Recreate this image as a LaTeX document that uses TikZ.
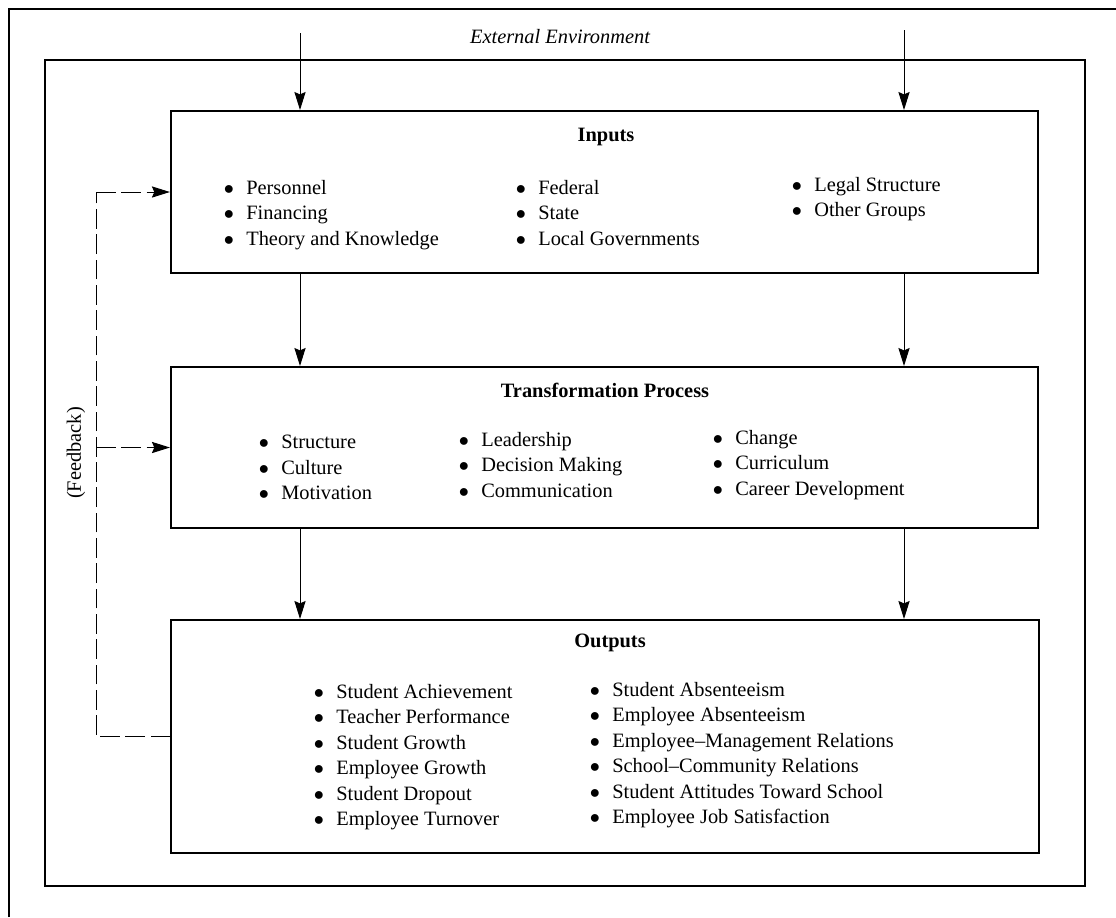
\documentclass[tikz,border=0pt]{standalone}
\usepackage{fontspec}
\setmainfont{Liberation Serif}
\usetikzlibrary{arrows.meta}
\newcommand{\bul}{\makebox[1.1em][l]{$\bullet$}}
\tikzset{
  sysbox/.style={draw, line width=1.4pt, minimum width=21.675cm, inner sep=0pt},
  ttl/.style={font=\fontsize{14.5}{18.1}\selectfont\bfseries},
  lst/.style={anchor=north west, align=left, inner sep=0pt},
  arr/.style={-{Stealth[length=4.5mm,width=2.8mm,inset=0.6mm]}, line width=0.7pt},
  fb/.style={line width=0.7pt, dash pattern=on 14pt off 4pt},
}

\begin{document}
\begin{tikzpicture}[x=0.025cm, y=-0.025cm, font=\fontsize{14.5}{18.1}\selectfont]
  \useasboundingbox (0,0) rectangle (1116,917);
  % environment and system frames
  \draw[line width=0.9pt] (9,917) -- (9,9) -- (1116,9);
  \draw[line width=1pt] (45,60) rectangle (1085,886);
  \node (env) at (560,37) {\itshape External Environment};

  % the three boxes
  \node[sysbox, minimum height=4.05cm] (inp) at (604.5,192) {};
  \node[sysbox, minimum height=4.025cm] (trans) at (604.5,447.5) {};
  \node[sysbox, minimum height=5.825cm] (outp) at (605,736.5) {};

  \node[ttl] (inpT) at (606,137) {Inputs};
  \node[lst] (inpA) at (223.6,180) {\bul Personnel\\\bul Financing\\\bul Theory and Knowledge};
  \node[lst] (inpB) at (515.6,180) {\bul Federal\\\bul State\\\bul Local Governments};
  \node[lst] (inpC) at (791.6,177) {\bul Legal Structure\\\bul Other Groups};

  \node[ttl] (transT) at (605,390) {Transformation Process};
  \node[lst] (transA) at (258.6,435) {\bul Structure\\\bul Culture\\\bul Motivation};
  \node[lst] (transB) at (458.6,432) {\bul Leadership\\\bul Decision Making\\\bul Communication};
  \node[lst] (transC) at (712.6,430) {\bul Change\\\bul Curriculum\\\bul Career Development};

  \node[ttl] (outpT) at (610,643) {Outputs};
  \node[lst] (outpA) at (313.6,684) {\bul Student Achievement\\\bul Teacher Performance\\\bul Student Growth\\\bul Employee Growth\\\bul Student Dropout\\\bul Employee Turnover};
  \node[lst] (outpB) at (589.6,682) {\bul Student Absenteeism\\\bul Employee Absenteeism\\\bul Employee--Management Relations\\\bul School--Community Relations\\\bul Student Attitudes Toward School\\\bul Employee Job Satisfaction};

  % flow arrows
  \coordinate (envL) at (300,33);
  \coordinate (envR) at (904,30);
  \draw[arr] (envL) -- (envL |- inp.north);
  \draw[arr] (envR) -- (envR |- inp.north);
  \draw[arr] (inp.south -| envL) -- (trans.north -| envL);
  \draw[arr] (inp.south -| envR) -- (trans.north -| envR);
  \draw[arr] (trans.south -| envL) -- (outp.north -| envL);
  \draw[arr] (trans.south -| envR) -- (outp.north -| envR);

  % feedback loop
  \coordinate (fbx) at (96,0);
  \draw[fb] (outp.west) -- (outp.west -| fbx) -- (inp.west -| fbx);
  \draw[fb, arr] (inp.west -| fbx) -- (inp.west);
  \draw[fb, arr] (trans.west -| fbx) -- (trans.west);
  \node[rotate=90] (fbL) at (76,453) {(Feedback)};
\end{tikzpicture}
\end{document}
